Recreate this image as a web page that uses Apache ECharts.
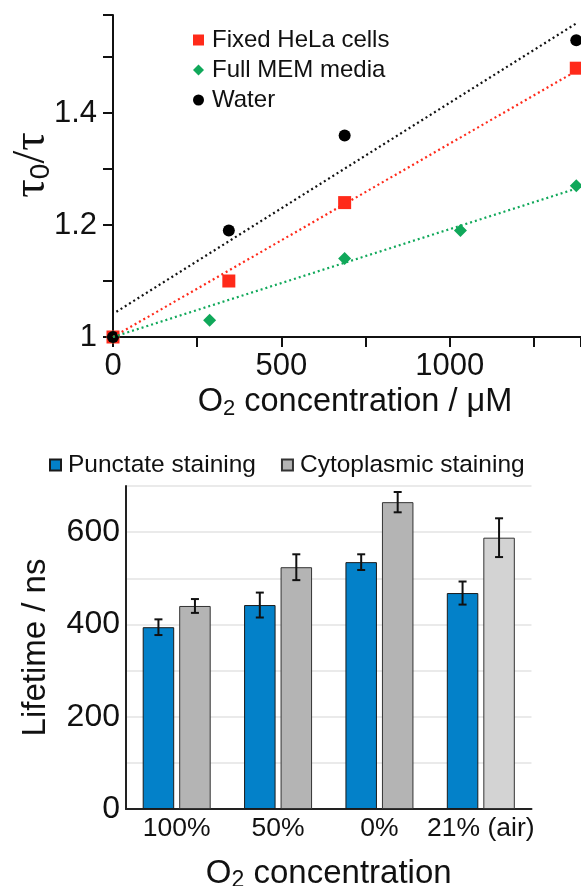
<!DOCTYPE html>
<html>
<head>
<meta charset="utf-8">
<script src="https://cdn.jsdelivr.net/npm/echarts@6/dist/echarts.min.js"></script>
<style>
html,body{margin:0;padding:0;background:#fff;}
#chart{width:581px;height:886px;}
</style>
</head>
<body>
<div id="chart"></div>
<script>
// ---- Top chart data (O2 concentration in µM vs tau0/tau) ----
const helaX = [0, 344, 688, 1376];
const helaY = [1.00, 1.10, 1.24, 1.48];
const memX = [0, 287, 688, 1032, 1376];
const memY = [1.00, 1.03, 1.14, 1.19, 1.27];
const waterX = [0, 344, 688, 1376];
const waterY = [1.00, 1.19, 1.36, 1.53];
// fitted lines (end points)
const helaFitX = [0, 1376];
const helaFitY = [1.00, 1.475];
const memFitX = [0, 1376];
const memFitY = [1.00, 1.265];
const waterFitX = [10, 1376];
const waterFitY = [1.045, 1.56];
const topXTicks = [0, 500, 1000];
const topYTicks = [1, 1.2, 1.4];

// ---- Bottom chart data ----
const categories = ['100%', '50%', '0%', '21% (air)'];
const punctate = [394, 442, 535, 468];
const punctateErr = [17, 27, 17, 25];
const cyto = [440, 524, 665, 588];
const cytoErr = [15, 28, 22, 42];
const bottomYTicks = [0, 200, 400, 600];

const FONT = "'Liberation Sans', Arial, sans-serif";
const zip = (xs, ys) => xs.map((x, i) => [x, ys[i]]);

const BAR_W = 31.5;
const BAR_GAP = 5;

function errRender(sign) {
  return function (params, api) {
    const idx = api.value(0);
    const v = api.value(1);
    const e = api.value(2);
    const off = sign * (BAR_W / 2 + BAR_GAP / 2);
    const top = api.coord([idx, v + e]);
    const bot = api.coord([idx, v - e]);
    const x = top[0] + off;
    const cap = 4;
    const style = { stroke: '#111', lineWidth: 2 };
    return {
      type: 'group',
      children: [
        { type: 'line', shape: { x1: x, y1: top[1], x2: x, y2: bot[1] }, style },
        { type: 'line', shape: { x1: x - cap, y1: top[1], x2: x + cap, y2: top[1] }, style },
        { type: 'line', shape: { x1: x - cap, y1: bot[1], x2: x + cap, y2: bot[1] }, style }
      ]
    };
  };
}

const chart = echarts.init(document.getElementById('chart'), null, { renderer: 'canvas' });

const option = {
  animation: false,
  backgroundColor: '#fff',
  textStyle: { fontFamily: FONT, color: '#111' },
  legend: [
    {
      orient: 'vertical',
      left: 188,
      top: 20,
      itemWidth: 11,
      itemHeight: 11,
      itemGap: 0,
      textStyle: { fontFamily: FONT, fontSize: 24, color: '#111', lineHeight: 30, padding: [0, 0, 0, 3] },
      data: [
        { name: 'Fixed HeLa cells', icon: 'rect' },
        { name: 'Full MEM media', icon: 'diamond' },
        { name: 'Water', icon: 'circle' }
      ]
    },
    {
      orient: 'horizontal',
      left: 44,
      top: 446,
      itemWidth: 11,
      itemHeight: 11,
      itemGap: 25,
      textStyle: { fontFamily: FONT, fontSize: 24.5, color: '#111', lineHeight: 28, padding: [0, 0, 0, 2] },
      data: [
        { name: 'Punctate staining', icon: 'rect' },
        { name: 'Cytoplasmic staining', icon: 'rect' }
      ]
    }
  ],
  grid: [
    { left: 113, top: 15, right: 0, height: 322, containLabel: false, outerBoundsMode: 'none' },
    { left: 126, top: 486, width: 405.5, height: 323, containLabel: false, outerBoundsMode: 'none' }
  ],
  xAxis: [
    {
      gridIndex: 0,
      type: 'value',
      min: 0,
      max: 1390,
      interval: 250,
      axisLine: { show: true, onZero: false, lineStyle: { color: '#111', width: 2 } },
      axisTick: { show: true, length: 10, lineStyle: { color: '#111', width: 2 } },
      splitLine: { show: false },
      axisLabel: {
        fontFamily: FONT, fontSize: 31, color: '#111', margin: 14,
        formatter: v => (topXTicks.indexOf(v) >= 0 ? String(v) : '')
      },
      name: '{n|O}{s|2}{n| concentration / μM}',
      nameLocation: 'middle',
      nameGap: 47,
      nameTextStyle: {
        fontFamily: FONT, color: '#111', padding: [0, 0, 0, 16],
        rich: {
          n: { fontFamily: FONT, fontSize: 32.5, color: '#111', lineHeight: 36 },
          s: { fontFamily: FONT, fontSize: 22, color: '#111', lineHeight: 14, verticalAlign: 'bottom' }
        }
      }
    },
    {
      gridIndex: 1,
      type: 'category',
      data: categories,
      axisLine: { show: true, lineStyle: { color: '#222', width: 2 } },
      axisTick: { show: false },
      axisLabel: { fontFamily: FONT, fontSize: 26.5, color: '#111', margin: 6, interval: 0, hideOverlap: false },
      name: '{n|O}{s|2}{n| concentration}',
      nameLocation: 'middle',
      nameGap: 47,
      nameTextStyle: {
        fontFamily: FONT, color: '#111',
        rich: {
          n: { fontFamily: FONT, fontSize: 33, color: '#111', lineHeight: 36 },
          s: { fontFamily: FONT, fontSize: 23, color: '#111', lineHeight: 14, verticalAlign: 'bottom' }
        }
      }
    }
  ],
  yAxis: [
    {
      gridIndex: 0,
      type: 'value',
      min: 1,
      max: 1.575,
      interval: 0.1,
      axisLine: { show: true, onZero: false, lineStyle: { color: '#111', width: 2 } },
      axisTick: { show: true, length: 10, lineStyle: { color: '#111', width: 2 } },
      splitLine: { show: false },
      axisLabel: {
        fontFamily: FONT, fontSize: 31, color: '#111', margin: 16,
        formatter: v => {
          const r = Math.round(v * 10) / 10;
          return topYTicks.indexOf(r) >= 0 ? String(r) : '';
        }
      },
      name: '{t|τ}{s|0}{t|/τ}',
      nameLocation: 'middle',
      nameRotate: 90,
      nameGap: 58,
      nameMoveOverlap: false,
      nameTextStyle: {
        fontFamily: "'Liberation Serif', serif", color: '#111', padding: [0, 0, 0, 22],
        rich: {
          t: { fontFamily: "'Liberation Serif', serif", fontSize: 46, color: '#111', lineHeight: 46 },
          s: { fontFamily: FONT, fontSize: 28, color: '#111', lineHeight: 24, verticalAlign: 'bottom' }
        }
      }
    },
    {
      gridIndex: 1,
      type: 'value',
      min: 0,
      max: 700,
      interval: 100,
      axisLine: { show: true, lineStyle: { color: '#222', width: 2 } },
      axisTick: { show: false },
      splitLine: { show: true, lineStyle: { color: '#e3e3e3', width: 1.5 } },
      axisLabel: {
        fontFamily: FONT, fontSize: 32, color: '#111', margin: 6,
        formatter: v => (bottomYTicks.indexOf(v) >= 0 ? String(v) : '')
      },
      name: 'Lifetime / ns',
      nameLocation: 'middle',
      nameRotate: 90,
      nameGap: 74,
      nameTextStyle: { fontFamily: FONT, fontSize: 33, color: '#111' }
    }
  ],
  series: [
    {
      name: 'hela-fit', type: 'line', xAxisIndex: 0, yAxisIndex: 0,
      data: zip(helaFitX, helaFitY), symbol: 'none', silent: true,
      lineStyle: { color: '#ff2a1a', width: 2.2, type: [2, 3] }
    },
    {
      name: 'mem-fit', type: 'line', xAxisIndex: 0, yAxisIndex: 0,
      data: zip(memFitX, memFitY), symbol: 'none', silent: true,
      lineStyle: { color: '#10a85a', width: 2.2, type: [2, 3] }
    },
    {
      name: 'water-fit', type: 'line', xAxisIndex: 0, yAxisIndex: 0,
      data: zip(waterFitX, waterFitY), symbol: 'none', silent: true,
      lineStyle: { color: '#111', width: 2.2, type: [2, 3] }
    },
    {
      name: 'Fixed HeLa cells', type: 'scatter', xAxisIndex: 0, yAxisIndex: 0,
      data: zip(helaX, helaY), symbol: 'rect', symbolSize: 13, clip: false,
      itemStyle: { color: '#ff2a1a', opacity: 1 }
    },
    {
      name: 'Full MEM media', type: 'scatter', xAxisIndex: 0, yAxisIndex: 0,
      data: zip(memX, memY), symbol: 'diamond', symbolSize: 13, clip: false,
      itemStyle: { color: '#10a85a', opacity: 1 }
    },
    {
      name: 'Water', type: 'scatter', xAxisIndex: 0, yAxisIndex: 0,
      data: zip(waterX, waterY), symbol: 'circle', symbolSize: 12, clip: false,
      itemStyle: { color: '#000', opacity: 1 }
    },
    {
      name: 'Punctate staining', type: 'bar', xAxisIndex: 1, yAxisIndex: 1,
      data: punctate, barWidth: BAR_W, barGap: (BAR_GAP / BAR_W * 100) + '%',
      itemStyle: { color: '#0381c9', borderColor: '#1a1a1a', borderWidth: 1 }
    },
    {
      name: 'Cytoplasmic staining', type: 'bar', xAxisIndex: 1, yAxisIndex: 1,
      data: cyto.map((v, i) => i === cyto.length - 1
        ? { value: v, itemStyle: { color: '#d3d3d3' } }
        : v),
      barWidth: BAR_W,
      itemStyle: { color: '#b4b4b4', borderColor: '#333', borderWidth: 1 }
    },
    {
      name: 'punctate-err', type: 'custom', xAxisIndex: 1, yAxisIndex: 1,
      renderItem: errRender(-1), z: 10, silent: true,
      encode: { x: 0, y: 1 },
      data: punctate.map((v, i) => [i, v, punctateErr[i]])
    },
    {
      name: 'cyto-err', type: 'custom', xAxisIndex: 1, yAxisIndex: 1,
      renderItem: errRender(1), z: 10, silent: true,
      encode: { x: 0, y: 1 },
      data: cyto.map((v, i) => [i, v, cytoErr[i]])
    }
  ]
};

chart.setOption(option);
</script>
</body>
</html>
